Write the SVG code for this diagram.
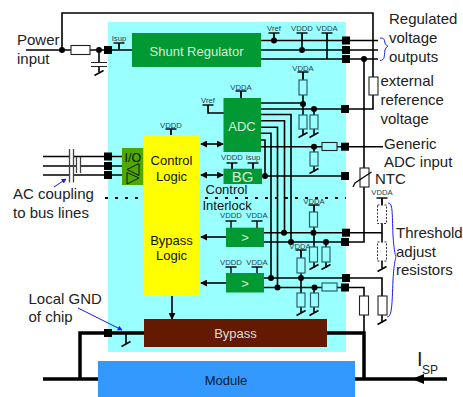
<svg xmlns="http://www.w3.org/2000/svg" width="463" height="397" viewBox="0 0 463 397">
<style>
text{font-family:"Liberation Sans",Arial,sans-serif;fill:#111}
.l{font-size:15px;fill:#222}
.m{font-size:13px}
.w{font-size:13px;fill:#d8ecd8;text-anchor:middle}
.c{text-anchor:middle}
.s{font-size:7.7px;text-anchor:middle;fill:#24434f}
.t{fill:none;stroke:#000;stroke-width:1.6}
.k{fill:none;stroke:#000;stroke-width:3.5}
.b{fill:none;stroke:#1a1aee;stroke-width:1}
.r{fill:#9ff;stroke:#2d5f6b;stroke-width:1.2}
.x{fill:#fff;stroke:#222;stroke-width:1.1}
.d{fill:#fff;stroke:#333;stroke-width:1;stroke-dasharray:2 1.5}
.p{fill:none;stroke:#333;stroke-width:1}
</style>
<defs>
<marker id="a" viewBox="0 0 8 8" refX="7" refY="4" markerWidth="7" markerHeight="7" markerUnits="userSpaceOnUse" orient="auto-start-reverse"><path d="M0 0L8 4L0 8z" fill="#000"/></marker>
<marker id="ab" viewBox="0 0 8 8" refX="7" refY="4" markerWidth="5" markerHeight="5" markerUnits="userSpaceOnUse" orient="auto"><path d="M0 0L8 4L0 8z" fill="#1a1aee"/></marker>
<g id="g"><path class="t" d="M-4.500 2.500L4.500-2.500"/></g>
<g id="bar"><path d="M-5.500 0H5.500M0 0V7" fill="none" stroke="#111" stroke-width="1.500"/></g>
<circle id="o" r="3" fill="#000"/>
<rect id="q" x="-4" y="-4" width="8" height="8" fill="#000"/>
</defs>
<rect id="chip" x="108" y="22" width="238" height="330" fill="#9ff"/>
<g id="connectors">
<path class="t" d="M26 50H132M62 50V13H373V109H261M99 50V62M99 67V72M119 50V43"/>
<path class="t" d="M261 40.500H378M261 50H378M261 59H378M274 40.500V33M302 50V33M327 59V33M364 59V242H264"/>
<path class="t" d="M303 72V135M314 109V135M261 103H303M261 114.500H291V242M261 120.700H284.500V232.700M261 127.300H277.500V287.500M261 133.300H271V278M261 140H265V176M261 146.700H383M262 176H346M314 147V172"/>
<path class="t" d="M208 105V113H224M241 91V98M232 163V169M253 163V169M171 129V135"/>
<path class="t" d="M264 232.700H382M264 278H382V323M264 287.500H364V333M382 198V268M314 205V268M326 242V268M301 250V313M314 287.500V313"/>
<path class="t" d="M43 156.500H69.500M73.500 156.500H122M43 166H76.500M80.500 166H122M43 175H69.500M73.500 175H122"/>
<path class="t" marker-start="url(#a)" marker-end="url(#a)" d="M201 144H223"/>
<path class="t" marker-start="url(#a)" marker-end="url(#a)" d="M201 175H223"/>
<path class="t" marker-end="url(#a)" d="M226 237H201"/>
<path class="t" marker-end="url(#a)" d="M226 283H201"/>
<path class="t" marker-end="url(#a)" d="M172 296V319"/>
<path d="M105 198H346" fill="none" stroke="#000" stroke-width="1.800" stroke-dasharray="3 7"/>
<path class="t" marker-start="url(#a)" marker-end="url(#a)" d="M173 190V205"/>
<path class="k" d="M144 333H80V379M43 379H98M327 333H364V379M355 379H447"/>
<path class="t" d="M126 333V344"/>
<path d="M412 379L424 374V384z" fill="#000"/>
<path class="b" marker-end="url(#ab)" d="M54 187L66 179"/>
<path class="b" marker-end="url(#ab)" d="M78 308L122 330"/>
<path class="b" d="M380 38C385 38 384 40 385 43C386 46 388 46 388 46C388 46 386 47 385 50C384 57 385 60 380 60.500"/>
<path class="b" d="M388 203C393 203 392 212 393 235C394 252 396 257 396 257C396 257 394 262 393 280C392 305 392 317 387 317"/>
</g>
<g id="dots">
<use href="#o" x="62" y="50"/><use href="#o" x="99" y="50"/>
<use href="#o" x="274" y="40.500"/><use href="#o" x="302" y="50"/><use href="#o" x="364" y="59"/>
<use href="#o" x="303" y="104"/><use href="#o" x="314" y="109"/><use href="#o" x="314" y="146.700"/><use href="#o" x="265" y="176"/>
<use href="#o" x="284" y="232.700"/><use href="#o" x="291" y="242"/><use href="#o" x="313.500" y="232.700"/><use href="#o" x="326" y="242"/>
<use href="#o" x="271" y="278"/><use href="#o" x="277.500" y="287.500"/><use href="#o" x="301" y="278"/><use href="#o" x="314.500" y="287.500"/>
</g>
<g id="pads">
<use href="#q" x="108" y="50"/><use href="#q" x="346" y="40.500"/><use href="#q" x="346" y="50"/><use href="#q" x="346" y="59"/>
<use href="#q" x="345" y="109"/><use href="#q" x="345" y="146.700"/><use href="#q" x="345" y="176"/>
<use href="#q" x="108" y="156.500"/><use href="#q" x="108" y="166"/><use href="#q" x="108" y="175"/>
<use href="#q" x="346" y="232.700"/><use href="#q" x="345" y="242"/><use href="#q" x="346" y="278"/><use href="#q" x="345" y="287.500"/>
<use href="#q" x="108" y="333"/>
</g>
<g id="grounds">
<use href="#g" x="99" y="73"/><use href="#g" x="126" y="344"/>
<use href="#g" x="303" y="135"/><use href="#g" x="314" y="135"/><use href="#g" x="314" y="171"/>
<use href="#g" x="382" y="269"/><use href="#g" x="314" y="267"/><use href="#g" x="326" y="267"/>
<use href="#g" x="301" y="313"/><use href="#g" x="314" y="313"/><use href="#g" x="382" y="322"/>
</g>
<g id="power-rails">
<use href="#bar" x="119" y="43"/><use href="#bar" x="274" y="33"/><use href="#bar" x="302" y="33"/><use href="#bar" x="327" y="33"/>
<use href="#bar" x="303" y="72"/><use href="#bar" x="241" y="91"/><use href="#bar" x="208" y="105"/><use href="#bar" x="171" y="129"/>
<use href="#bar" x="232" y="163"/><use href="#bar" x="253" y="163"/><use href="#bar" x="382" y="198"/><use href="#bar" x="314" y="205"/>
<use href="#bar" x="231" y="221"/><use href="#bar" x="257" y="221"/><use href="#bar" x="301" y="250"/><use href="#bar" x="231" y="267"/><use href="#bar" x="257" y="267"/>
<text class="s" x="119" y="41">Isup</text><text class="s" x="274" y="31">Vref</text><text class="s" x="302" y="31">VDDD</text><text class="s" x="327" y="31">VDDA</text>
<text class="s" x="303" y="71">VDDA</text><text class="s" x="241" y="90">VDDA</text><text class="s" x="208" y="103">Vref</text><text class="s" x="171" y="128">VDDD</text>
<text class="s" x="232" y="160">VDDD</text><text class="s" x="253" y="160">Isup</text><text class="s" x="382" y="195">VDDA</text><text class="s" x="314" y="204">VDDA</text>
<text class="s" x="231" y="218">VDDD</text><text class="s" x="257" y="218">VDDA</text><text class="s" x="300" y="249">VDDA</text><text class="s" x="231" y="265">VDDD</text><text class="s" x="257" y="265">VDDA</text>
</g>
<g id="resistors">
<rect class="x" x="71" y="45.500" width="19" height="9"/>
<rect class="x" x="369" y="77" width="9" height="18"/>
<rect class="r" x="299" y="80" width="8" height="15"/><rect class="r" x="299" y="115" width="8" height="14"/><rect class="r" x="310" y="115" width="8" height="14"/>
<rect class="x" x="322" y="142.500" width="15" height="8" style="fill:#9ff"/><rect class="r" x="310" y="152" width="8" height="14"/>
<rect class="r" x="309.500" y="212" width="8" height="15"/><rect class="r" x="309.500" y="247" width="8" height="15"/><rect class="r" x="322" y="247" width="8" height="15"/>
<rect class="r" x="297" y="258" width="8" height="15"/><rect class="r" x="297" y="293" width="8" height="14"/><rect class="r" x="310.500" y="293" width="8" height="14"/>
<rect class="r" x="322" y="283" width="15" height="8"/>
<rect class="d" x="377.500" y="205" width="9" height="18.500"/><rect class="d" x="377.500" y="242" width="9" height="19"/>
<rect class="x" x="359.500" y="296" width="9" height="19"/><rect class="x" x="378" y="296" width="9" height="19"/>
</g>
<g id="ntc">
<rect class="x" x="360" y="168" width="9" height="19"/>
<path class="p" d="M353 187L355 183L371.500 172" style="stroke:#000;stroke-width:1.200"/>
</g>
<g id="capacitors">
<path fill="none" stroke="#222" stroke-width="1.200" d="M91 62.500H107M91 66.500H107"/>
<path fill="none" stroke="#444" stroke-width="1.300" d="M69.500 149V182.500M73.500 149V182.500M76.500 157V173M80.500 157V173"/>
</g>
<g id="shunt-regulator"><rect x="132" y="33" width="129" height="34" fill="#093"/><text class="w" x="196.500" y="56">Shunt Regulator</text></g>
<g id="adc"><rect x="223.500" y="98" width="37.500" height="54" fill="#093"/><text class="w" x="242" y="131">ADC</text></g>
<g id="bg"><rect x="223.500" y="168.700" width="38.500" height="15.300" fill="#093"/><text class="w" x="242.500" y="181.500" style="font-size:15px">BG</text></g>
<g id="io"><rect x="122" y="148" width="21.500" height="37" fill="#4fa800"/><text x="132.800" y="162" text-anchor="middle" style="font-size:12.500px">I/O</text>
<path class="p" style="stroke:#111" d="M139 163.500V175.500L127 169.500zM127 172.500V184L139 178z"/></g>
<g id="control-bypass-logic"><rect x="143.500" y="135" width="56" height="161" fill="#ff0"/>
<text class="m c" x="171.500" y="165">Control</text><text class="m c" x="171.500" y="181">Logic</text>
<text class="m c" x="171.500" y="245">Bypass</text><text class="m c" x="171.500" y="260">Logic</text></g>
<g id="comparator-1"><rect x="226" y="227.700" width="38" height="19.300" fill="#093"/><text class="w" x="245" y="242">&gt;</text></g>
<g id="comparator-2"><rect x="226" y="273" width="38" height="19.500" fill="#093"/><text class="w" x="245" y="288">&gt;</text></g>
<g id="bypass"><rect x="144" y="319" width="183" height="28" fill="#641a00"/><text class="w" x="235.500" y="338" style="fill:#ddd">Bypass</text></g>
<g id="module"><rect x="98" y="361" width="257" height="36" fill="#39f"/><text class="m c" x="226" y="385" style="fill:#0a1a30">Module</text></g>
<g id="labels">
<text class="l" x="17" y="45">Power</text><text class="l" x="17" y="64">input</text>
<text class="l" x="13" y="199">AC coupling</text><text class="l" x="13" y="218">to bus lines</text>
<text class="l" x="28.500" y="304">Local GND</text><text class="l" x="28.500" y="322">of chip</text>
<text class="l" x="389" y="24">Regulated</text><text class="l" x="389" y="43">voltage</text><text class="l" x="389" y="62">outputs</text>
<text class="l" x="380.500" y="86">external</text><text class="l" x="380.500" y="105">reference</text><text class="l" x="380.500" y="124">voltage</text>
<text class="l" x="384" y="149">Generic</text><text class="l" x="384" y="167">ADC input</text><text class="l" x="375" y="184">NTC</text>
<text class="l" x="396" y="238">Threshold</text><text class="l" x="396" y="257">adjust</text><text class="l" x="396" y="275">resistors</text>
<text class="m" x="205.500" y="194">Control</text><text class="m" x="202.500" y="209.500">Interlock</text>
<text x="417" y="366" style="font-size:20px;fill:#222">I</text><text x="422" y="374" style="font-size:12px;fill:#222">SP</text>
</g>
</svg>
